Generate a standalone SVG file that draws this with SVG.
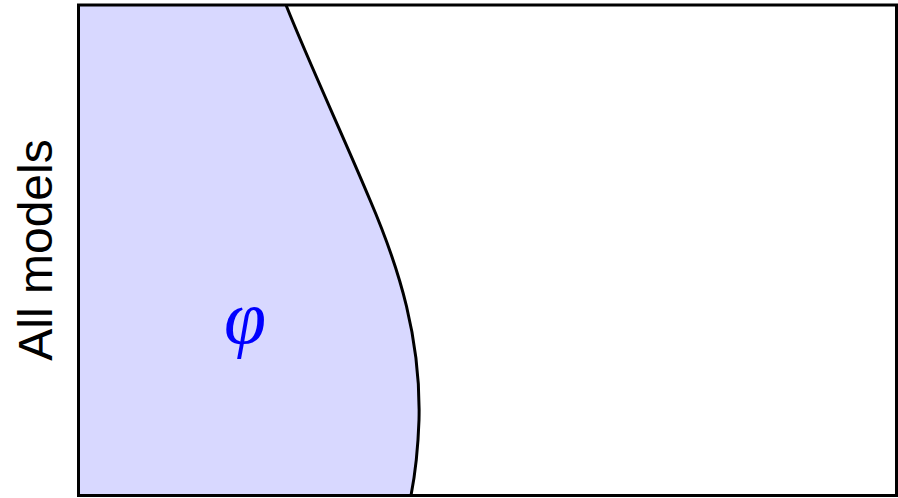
<svg xmlns="http://www.w3.org/2000/svg" width="898" height="498" viewBox="0 0 898 498">
<style>
.frame{fill:none;stroke:#000;stroke-width:3}
.region{fill:#d8d8ff;stroke:none}
.edge{fill:none;stroke:#000;stroke-width:3}
.lbl{font-family:"Liberation Sans",Arial,sans-serif;font-size:48px;fill:#000}
.phi{font-family:"Liberation Serif","Times New Roman",serif;font-style:italic;font-size:76px;fill:#0000ff}
</style>
<rect width="898" height="498" fill="#fff"/>
<g id="region">
<path class="region" d="M78.5,5 L286,5 C310,65 345,140 370,200 C400,270 421,340 419,420 C418,450 415,475 411,495.5 L78.5,495.5 Z"/>
<path class="edge" d="M286,5 C310,65 345,140 370,200 C400,270 421,340 419,420 C418,450 415,475 411,495.5"/>
<text class="phi" x="245" y="343" text-anchor="middle">φ</text>
</g>
<g id="frame">
<rect class="frame" x="78.5" y="5" width="818" height="490.5"/>
</g>
<g id="label">
<text class="lbl" transform="translate(52,250) rotate(-90)" text-anchor="middle">All models</text>
</g>
</svg>
